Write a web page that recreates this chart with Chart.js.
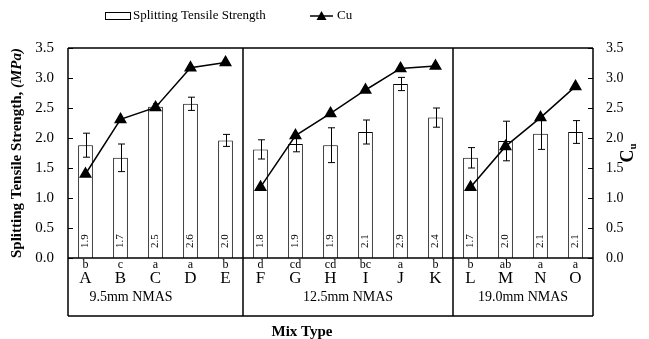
<!DOCTYPE html>
<html>
<head>
<meta charset="utf-8">
<script src="https://cdn.jsdelivr.net/npm/chart.js@4"></script>
<style>
  html, body { margin: 0; padding: 0; background: #fff; }
</style>
</head>
<body>
<canvas id="strengthChart" width="649" height="339"></canvas>
<script>
// mix types and statistical grouping letters
const mixTypes = ['A','B','C','D','E','F','G','H','I','J','K','L','M','N','O'];
const groupLetters = ['b','c','a','a','b','d','cd','cd','bc','a','b','b','ab','a','a'];
// splitting tensile strength (MPa) with error bars
const strengthValues = [1.88,1.67,2.52,2.57,1.96,1.81,1.90,1.88,2.10,2.90,2.34,1.67,1.95,2.07,2.10];
const strengthErrors = [0.20,0.23,0.05,0.11,0.10,0.16,0.13,0.29,0.20,0.11,0.16,0.17,0.33,0.26,0.19];
const strengthLabels = ['1.9','1.7','2.5','2.6','2.0','1.8','1.9','1.9','2.1','2.9','2.4','1.7','2.0','2.1','2.1'];
// coefficient of uniformity
const cuValues = [1.40,2.31,2.51,3.17,3.26,1.18,2.04,2.41,2.80,3.16,3.20,1.18,1.86,2.34,2.86];
// NMAS groups
const groupNames = ['9.5mm NMAS','12.5mm NMAS','19.0mm NMAS'];
const groupStarts = [0, 5, 11];
const groupLabelAt = [1.3, 7.5, 12.5];
const yTicks = [0, 0.5, 1, 1.5, 2, 2.5, 3, 3.5];

const serif = '"Liberation Serif", "Times New Roman", serif';
const boxBottom = 316;

const overlay = {
  id: 'overlay',
  afterDatasetDraw(chart, args) {
    if (args.index !== 0) return;
    const ctx = chart.ctx;
    const y = chart.scales.y;
    ctx.save();
    ctx.strokeStyle = '#000';
    ctx.fillStyle = '#000';
    ctx.lineWidth = 1;
    args.meta.data.forEach((bar, i) => {
      const cx = Math.round(bar.x) + 0.5;
      const hi = y.getPixelForValue(strengthValues[i] + strengthErrors[i]);
      const lo = y.getPixelForValue(strengthValues[i] - strengthErrors[i]);
      ctx.beginPath();
      ctx.moveTo(cx, hi); ctx.lineTo(cx, lo);
      ctx.moveTo(cx - 3.5, hi); ctx.lineTo(cx + 3.5, hi);
      ctx.moveTo(cx - 3.5, lo); ctx.lineTo(cx + 3.5, lo);
      ctx.stroke();

      ctx.save();
      ctx.translate(bar.x, y.getPixelForValue(0) - 17);
      ctx.rotate(-Math.PI / 2);
      ctx.font = '11px ' + serif;
      ctx.textAlign = 'center';
      ctx.textBaseline = 'middle';
      ctx.fillText(strengthLabels[i], 0, 0);
      ctx.restore();
    });
    ctx.restore();
  },
  afterDraw(chart) {
    const ctx = chart.ctx;
    const area = chart.chartArea;
    const x = chart.scales.x;
    const y = chart.scales.y;
    ctx.save();
    ctx.strokeStyle = '#000';
    ctx.fillStyle = '#000';
    ctx.lineWidth = 1.5;

    // frame and group boxes
    ctx.beginPath();
    ctx.moveTo(area.left, area.top); ctx.lineTo(area.right, area.top);
    ctx.moveTo(area.left, area.bottom); ctx.lineTo(area.right, area.bottom);
    ctx.moveTo(area.left, boxBottom); ctx.lineTo(area.right, boxBottom);
    ctx.moveTo(area.left, area.top); ctx.lineTo(area.left, boxBottom);
    ctx.moveTo(area.right, area.top); ctx.lineTo(area.right, boxBottom);
    groupStarts.slice(1).forEach(s => {
      const gx = x.getPixelForValue(s - 0.5);
      ctx.moveTo(gx, area.top); ctx.lineTo(gx, boxBottom);
    });
    ctx.stroke();

    // inward ticks on both value axes
    ctx.lineWidth = 1;
    ctx.beginPath();
    yTicks.forEach(v => {
      const py = Math.round(y.getPixelForValue(v)) + 0.5;
      ctx.moveTo(area.left, py); ctx.lineTo(area.left + 5, py);
      ctx.moveTo(area.right - 5, py); ctx.lineTo(area.right, py);
    });
    ctx.stroke();

    // category labels
    ctx.textAlign = 'center';
    ctx.textBaseline = 'middle';
    mixTypes.forEach((m, i) => {
      const px = x.getPixelForValue(i);
      ctx.font = '12px ' + serif;
      ctx.fillText(groupLetters[i], px, 265);
      ctx.font = '17px ' + serif;
      ctx.fillText(m, px, 279);
    });
    ctx.font = '14px ' + serif;
    groupNames.forEach((g, k) => {
      ctx.fillText(g, x.getPixelForValue(groupLabelAt[k]), 297);
    });

    // x title
    ctx.font = 'bold 15px ' + serif;
    ctx.fillText('Mix Type', 302, 332);

    // left title
    const midY = (area.top + area.bottom) / 2;
    ctx.save();
    ctx.translate(17, midY);
    ctx.rotate(-Math.PI / 2);
    ctx.textAlign = 'left';
    const p1 = 'Splitting Tensile Strength, ';
    const p2 = '(MPa)';
    ctx.font = 'bold 15px ' + serif;
    const w1 = ctx.measureText(p1).width;
    ctx.font = 'italic bold 15px ' + serif;
    const w2 = ctx.measureText(p2).width;
    const sx = -(w1 + w2) / 2;
    ctx.font = 'bold 15px ' + serif;
    ctx.fillText(p1, sx, 0);
    ctx.font = 'italic bold 15px ' + serif;
    ctx.fillText(p2, sx + w1, 0);
    ctx.restore();

    // right title C_u
    ctx.save();
    ctx.translate(628, midY);
    ctx.rotate(-Math.PI / 2);
    ctx.textAlign = 'left';
    ctx.font = 'bold 18px ' + serif;
    const wc = ctx.measureText('C').width;
    ctx.fillText('C', -(wc + 6) / 2, 0);
    ctx.font = 'bold 11px ' + serif;
    ctx.fillText('u', -(wc + 6) / 2 + wc, 5);
    ctx.restore();

    // legend
    ctx.lineWidth = 1;
    ctx.fillStyle = '#fff';
    ctx.fillRect(105.5, 12.5, 25, 7);
    ctx.strokeRect(105.5, 12.5, 25, 7);
    ctx.fillStyle = '#000';
    ctx.textAlign = 'left';
    ctx.font = '13px ' + serif;
    ctx.fillText('Splitting Tensile Strength', 133, 16);
    ctx.lineWidth = 1.5;
    ctx.beginPath();
    ctx.moveTo(310, 16); ctx.lineTo(333, 16);
    ctx.stroke();
    ctx.beginPath();
    ctx.moveTo(321.5, 11); ctx.lineTo(326.5, 20); ctx.lineTo(316.5, 20);
    ctx.closePath();
    ctx.fill();
    ctx.fillText('Cu', 337, 16);
    ctx.restore();
  }
};

const ctx1 = document.getElementById('strengthChart').getContext('2d');
const strengthChart = new Chart(ctx1, {
  data: {
    labels: mixTypes,
    datasets: [{
      type: 'bar',
      label: 'Splitting Tensile Strength',
      data: strengthValues,
      backgroundColor: '#fff',
      borderColor: '#000',
      borderWidth: 1,
      barPercentage: 0.42,
      categoryPercentage: 1,
      yAxisID: 'y',
      order: 2
    }, {
      type: 'line',
      label: 'Cu',
      data: cuValues,
      borderColor: '#000',
      borderWidth: 1.5,
      backgroundColor: '#000',
      pointStyle: 'triangle',
      pointRadius: 6,
      pointBackgroundColor: '#000',
      pointBorderColor: '#000',
      tension: 0,
      segment: {
        borderColor: c => groupStarts.includes(c.p1DataIndex) ? 'rgba(0,0,0,0)' : '#000'
      },
      yAxisID: 'y1',
      order: 1
    }]
  },
  options: {
    responsive: false,
    animation: false,
    devicePixelRatio: 1,
    layout: { padding: { top: 48, left: 0, right: 0, bottom: 0 } },
    plugins: {
      legend: { display: false },
      tooltip: { enabled: false }
    },
    scales: {
      x: {
        type: 'category',
        offset: true,
        grid: { display: false },
        border: { display: false },
        ticks: { display: false },
        afterFit: s => { s.height = 81; s.paddingLeft = 0; s.paddingRight = 0; }
      },
      y: {
        position: 'left',
        min: 0, max: 3.5,
        grid: { display: false, drawTicks: false },
        border: { display: false },
        ticks: {
          stepSize: 0.5,
          padding: 14,
          color: '#000',
          font: { family: serif, size: 15 },
          callback: v => v.toFixed(1)
        },
        afterFit: s => { s.width = 68; s.paddingTop = 0; s.paddingBottom = 0; }
      },
      y1: {
        position: 'right',
        min: 0, max: 3.5,
        grid: { display: false, drawTicks: false },
        border: { display: false },
        ticks: {
          stepSize: 0.5,
          padding: 13,
          color: '#000',
          font: { family: serif, size: 14 },
          callback: v => v.toFixed(1)
        },
        afterFit: s => { s.width = 56; s.paddingTop = 0; s.paddingBottom = 0; }
      }
    }
  },
  plugins: [overlay]
});
</script>
</body>
</html>
